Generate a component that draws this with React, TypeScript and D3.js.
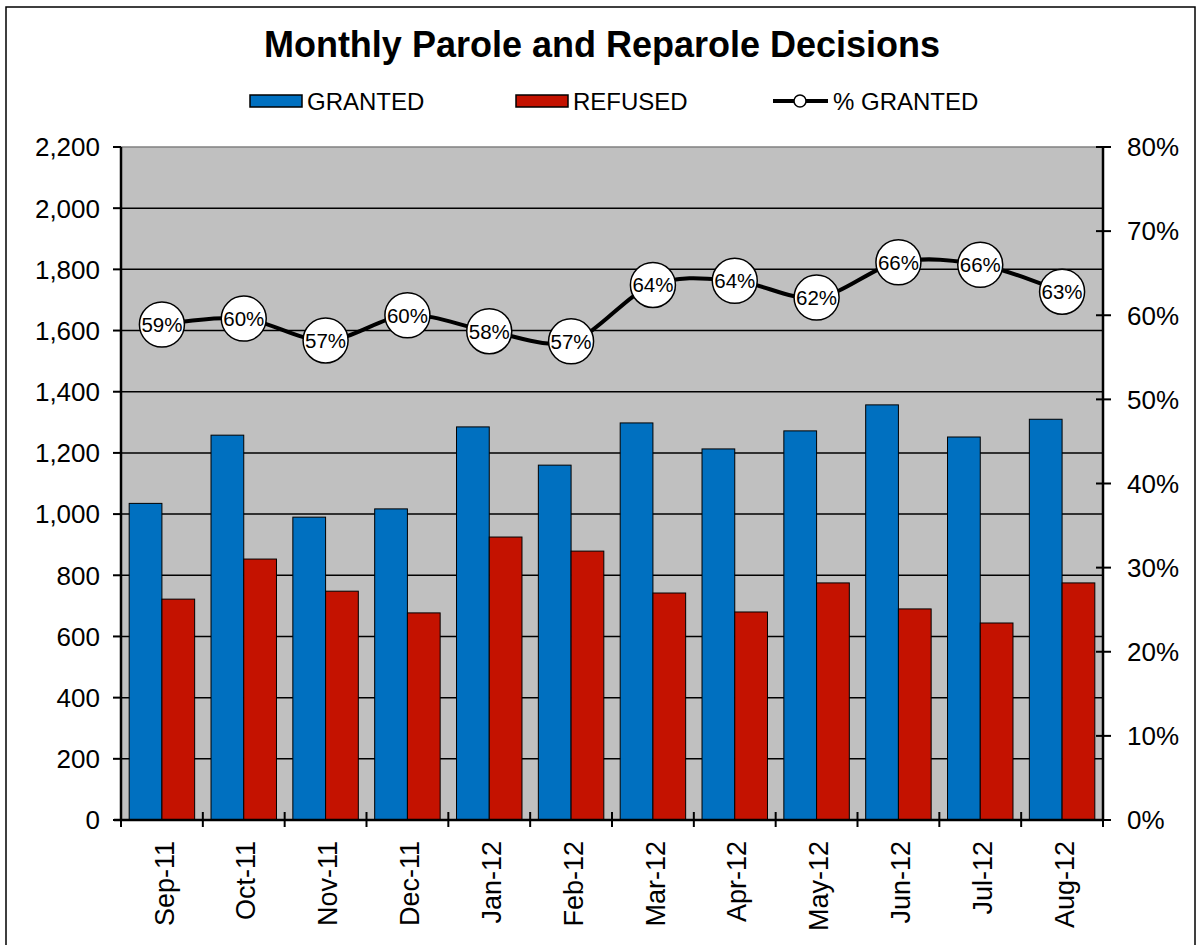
import React from "react";
import * as d3 from "d3";

const months = ["Sep-11","Oct-11","Nov-11","Dec-11","Jan-12","Feb-12","Mar-12","Apr-12","May-12","Jun-12","Jul-12","Aug-12"];
const granted = [1035, 1258, 990, 1017, 1285, 1160, 1298, 1213, 1272, 1357, 1252, 1310];
const refused = [722, 853, 748, 677, 925, 879, 742, 680, 775, 690, 644, 775];
const pctGranted = [0.589, 0.596, 0.570, 0.600, 0.581, 0.569, 0.636, 0.641, 0.621, 0.663, 0.660, 0.628];
const leftTicks = [0, 200, 400, 600, 800, 1000, 1200, 1400, 1600, 1800, 2000, 2200];
const rightTicks = [0, 0.1, 0.2, 0.3, 0.4, 0.5, 0.6, 0.7, 0.8];

const W = 1201, H = 945;
const L = 121, R = 1103, T = 147, B = 820;
const FONT = "Arial, 'Liberation Sans', sans-serif";
const BLUE = "#0070C0";
const RED = "#C41200";

export default function App() {
  const x = d3.scaleBand<string>().domain(months).range([L, R]).padding(0);
  const y = d3.scaleLinear().domain([0, 2200]).range([B, T]);
  const y2 = d3.scaleLinear().domain([0, 0.8]).range([B, T]);
  const bw = x.bandwidth();
  const gap = bw * 0.1;
  const barW = (bw - 2 * gap) / 2;
  const cx = (m: string) => (x(m) as number) + bw / 2;
  const line = d3.line<number>()
    .x((_, i) => cx(months[i]))
    .y((d) => y2(d))
    .curve(d3.curveCardinal.tension(0));
  const fmt = d3.format(",");

  return (
    <svg width={W} height={H} style={{ display: "block", position: "absolute", left: 0, top: 0 }} fontFamily={FONT}>
      <rect x={0} y={0} width={W} height={H} fill="#fff" />
      <rect x={6} y={7} width={1189} height={945} fill="none" stroke="#000" strokeWidth={1.5} />
      <text x={602} y={57} textAnchor="middle" fontSize={36} fontWeight="bold" fill="#000">
        Monthly Parole and Reparole Decisions
      </text>
      {/* legend */}
      <rect x={250} y={95} width={52} height={12} fill={BLUE} stroke="#000" strokeWidth={1.5} />
      <text x={307} y={110} fontSize={24} fill="#000">GRANTED</text>
      <rect x={516} y={95} width={52} height={12} fill={RED} stroke="#000" strokeWidth={1.5} />
      <text x={573} y={110} fontSize={24} fill="#000">REFUSED</text>
      <line x1={773} x2={828} y1={101} y2={101} stroke="#000" strokeWidth={4} />
      <circle cx={800} cy={101} r={6} fill="#fff" stroke="#000" strokeWidth={1.5} />
      <text x={833} y={110} fontSize={24} fill="#000">% GRANTED</text>

      {/* plot area */}
      <rect x={L} y={T} width={R - L} height={B - T} fill="#C0C0C0" />
      <line x1={L} x2={R} y1={T} y2={T} stroke="#808080" strokeWidth={1.5} />
      {leftTicks.filter((t) => t > 0 && t < 2200).map((t) => (
        <line key={t} x1={L} x2={R} y1={y(t)} y2={y(t)} stroke="#000" strokeWidth={1.5} />
      ))}

      {/* bars */}
      {months.map((m, i) => (
        <g key={m}>
          <rect x={(x(m) as number) + gap} y={y(granted[i])} width={barW} height={B - y(granted[i])} fill={BLUE} stroke="#000" strokeWidth={1} />
          <rect x={(x(m) as number) + gap + barW} y={y(refused[i])} width={barW} height={B - y(refused[i])} fill={RED} stroke="#000" strokeWidth={1} />
        </g>
      ))}

      {/* axes */}
      <line x1={L} x2={L} y1={T} y2={B} stroke="#000" strokeWidth={2.5} />
      <line x1={R} x2={R} y1={T} y2={B} stroke="#000" strokeWidth={2.5} />
      <line x1={L - 7} x2={R} y1={B} y2={B} stroke="#000" strokeWidth={2.5} />
      {leftTicks.map((t) => (
        <g key={t}>
          <line x1={L - 8} x2={L} y1={y(t)} y2={y(t)} stroke="#000" strokeWidth={2} />
          <text x={100} y={y(t)} dy="0.36em" textAnchor="end" fontSize={26} fill="#000">{fmt(t)}</text>
        </g>
      ))}
      {rightTicks.map((t) => (
        <g key={t}>
          <line x1={R - 7} x2={R + 8} y1={y2(t)} y2={y2(t)} stroke="#000" strokeWidth={2} />
          <text x={1127} y={y2(t)} dy="0.36em" textAnchor="start" fontSize={26} fill="#000">{d3.format(".0%")(t)}</text>
        </g>
      ))}
      {months.map((m) => (
        <line key={m} x1={x(m) as number} x2={x(m) as number} y1={B - 8} y2={B + 7} stroke="#000" strokeWidth={2} />
      ))}
      <line x1={R} x2={R} y1={B - 8} y2={B + 7} stroke="#000" strokeWidth={2} />
      {months.map((m) => (
        <text key={m} transform={`translate(${cx(m) + 2},841) rotate(-90)`} dy="0.36em" textAnchor="end" fontSize={27} fill="#000">{m}</text>
      ))}

      {/* line */}
      <path d={line(pctGranted) || ""} fill="none" stroke="#000" strokeWidth={4} />
      {pctGranted.map((p, i) => (
        <g key={i}>
          <circle cx={cx(months[i])} cy={y2(p)} r={22.5} fill="#fff" stroke="#000" strokeWidth={1.5} />
          <text x={cx(months[i])} y={y2(p)} dy="0.36em" textAnchor="middle" fontSize={20.5} fill="#000">{d3.format(".0%")(p)}</text>
        </g>
      ))}
    </svg>
  );
}
